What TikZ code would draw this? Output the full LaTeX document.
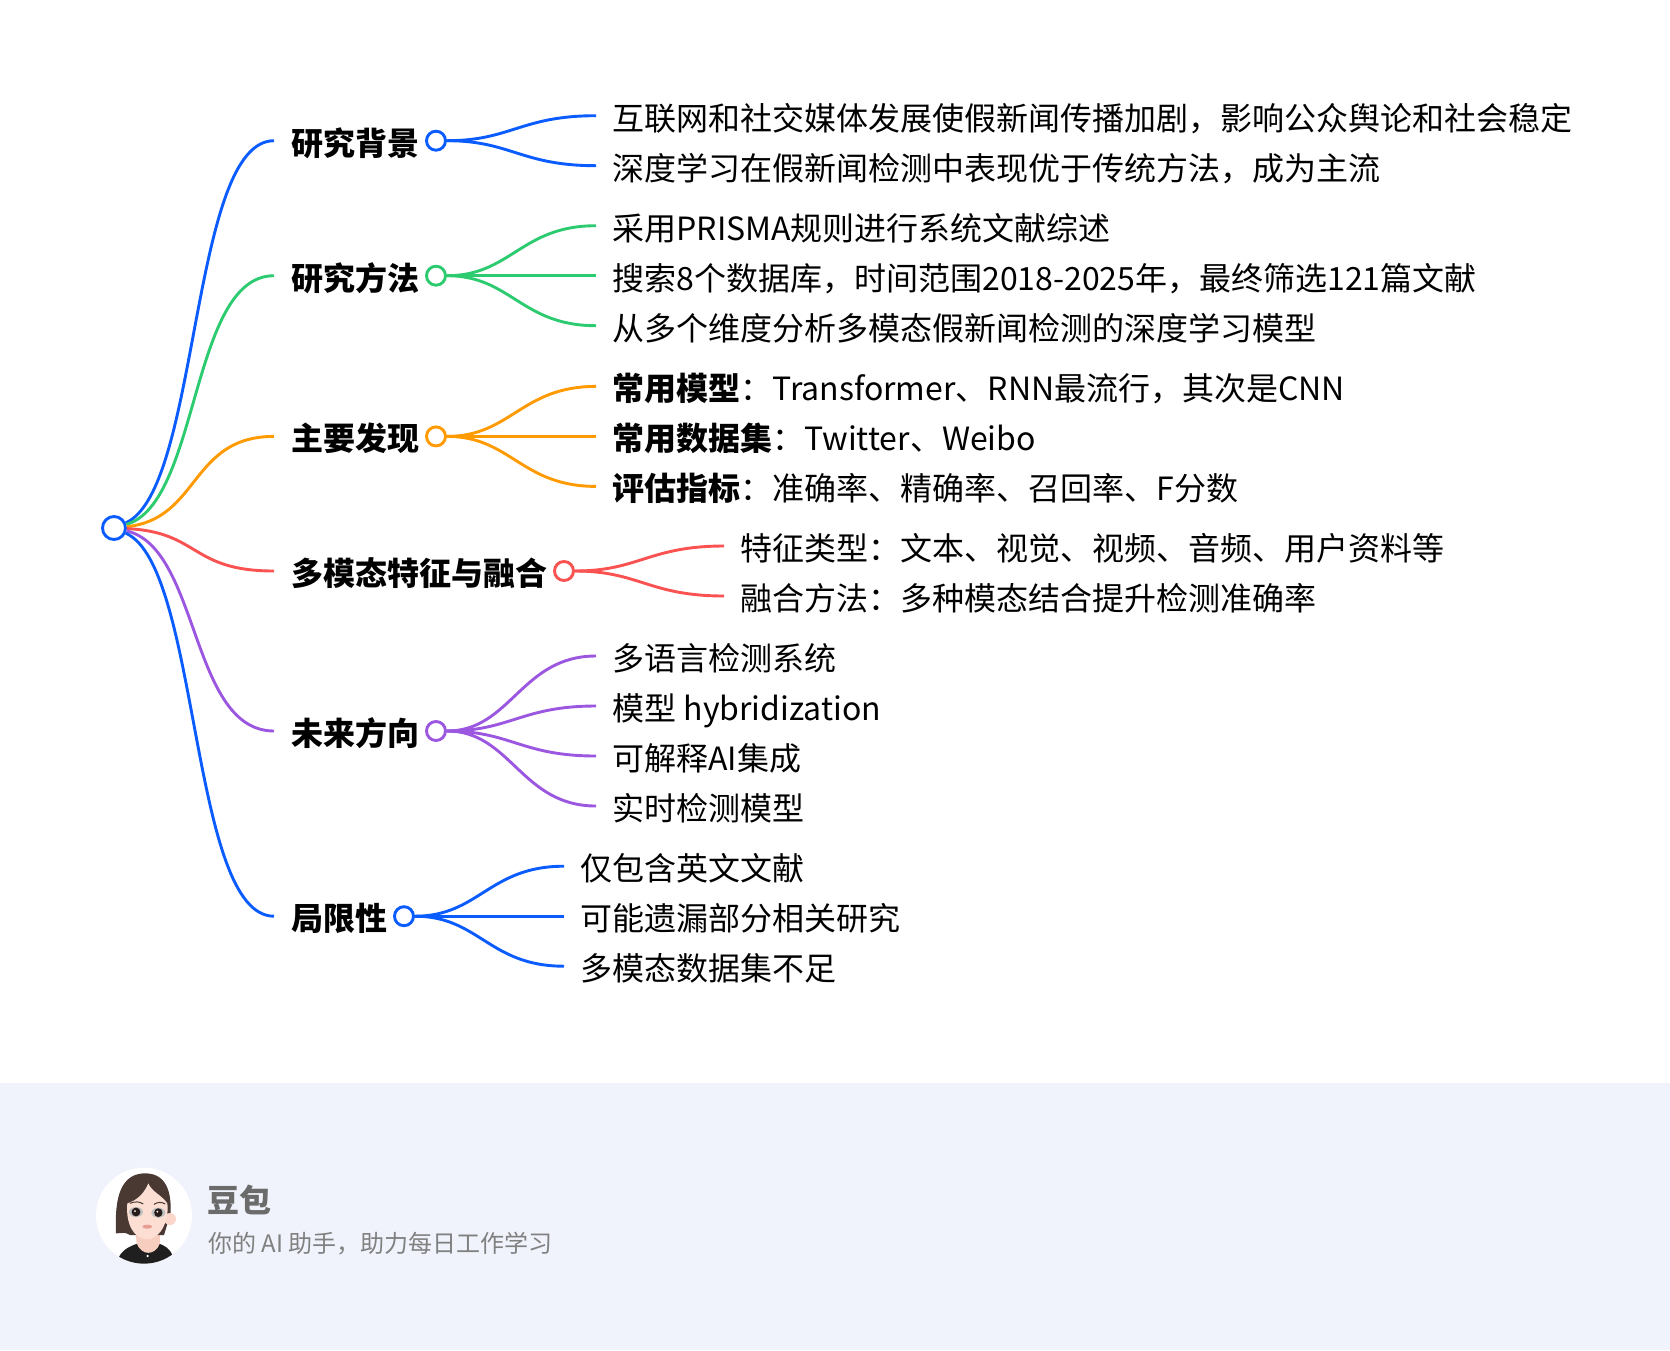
\documentclass[tikz,border=0pt]{standalone}
\usepackage{fontspec}
\setmainfont{Noto Sans CJK SC}
\usetikzlibrary{calc}
\definecolor{cblue}{HTML}{0A5CFF}
\definecolor{cgreen}{HTML}{2DCB70}
\definecolor{corange}{HTML}{FF9A00}
\definecolor{cred}{HTML}{FA5151}
\definecolor{cpurple}{HTML}{9C57E0}
\definecolor{footbg}{HTML}{F0F3FB}
\definecolor{hair}{HTML}{4A3832}
\definecolor{skin}{HTML}{FCDED3}
\definecolor{neck}{HTML}{F6CDBE}
\definecolor{ear}{HTML}{FAD7CA}
\definecolor{eye}{HTML}{281C1A}
\definecolor{lip}{HTML}{E89E92}
\begin{document}
\begin{tikzpicture}[x=1pt,y=-1pt,
    line width=2.9pt,
    label text/.style={inner ysep=0pt,outer sep=0pt,text height=30pt,text depth=1pt,font=\fontsize{32pt}{36pt}\selectfont,anchor=west},
    head/.style={label text,font=\fontsize{32pt}{36pt}\selectfont\bfseries,inner xsep=17pt},
    sub/.style={label text,inner xsep=16.5pt},
    dot/.style={draw,circle,fill=white,inner sep=0pt,minimum size=19pt},
    trunk/.style={to path={(\tikztostart) .. controls +(86,#1) and +(-84,0) .. (\tikztotarget)}},
    branch/.style={to path={(\tikztostart) .. controls +(75,0) and +(-75,0) .. (\tikztotarget)}}]
  \useasboundingbox (0,0) rectangle (1670,1350);
  \fill[footbg] (0,1083) rectangle (1670,1350);

  \node[dot,draw=cblue,minimum size=23pt] (0) at (114,528) {};
  \node[head] (1) at (274,140.7) {研究背景};
  \node[head] (2) at (274,275.7) {研究方法};
  \node[head] (3) at (274,436.4) {主要发现};
  \node[head] (4) at (274,571) {多模态特征与融合};
  \node[head] (5) at (274,731) {未来方向};
  \node[head] (6) at (274,916.2) {局限性};
  \node[dot,draw=cblue] (d1) at (1.east) {};
  \node[dot,draw=cgreen] (d2) at (2.east) {};
  \node[dot,draw=corange] (d3) at (3.east) {};
  \node[dot,draw=cred] (d4) at (4.east) {};
  \node[dot,draw=cpurple] (d5) at (5.east) {};
  \node[dot,draw=cblue] (d6) at (6.east) {};

  \node[sub] (11) at ($(d1)+(160,-25)$) {互联网和社交媒体发展使假新闻传播加剧，影响公众舆论和社会稳定};
  \node[sub] (12) at ($(d1)+(160,25)$) {深度学习在假新闻检测中表现优于传统方法，成为主流};

  \node[sub] (21) at ($(d2)+(160,-50)$) {采用PRISMA规则进行系统文献综述};
  \node[sub] (22) at ($(d2)+(160,0)$) {搜索8个数据库，时间范围2018-2025年，最终筛选121篇文献};
  \node[sub] (23) at ($(d2)+(160,50)$) {从多个维度分析多模态假新闻检测的深度学习模型};

  \node[sub] (31) at ($(d3)+(160,-50)$) {\textbf{常用模型}：Transformer、RNN最流行，其次是CNN};
  \node[sub] (32) at ($(d3)+(160,0)$) {\textbf{常用数据集}：Twitter、Weibo};
  \node[sub] (33) at ($(d3)+(160,50)$) {\textbf{评估指标}：准确率、精确率、召回率、F分数};

  \node[sub] (41) at ($(d4)+(160,-25)$) {特征类型：文本、视觉、视频、音频、用户资料等};
  \node[sub] (42) at ($(d4)+(160,25)$) {融合方法：多种模态结合提升检测准确率};

  \node[sub] (51) at ($(d5)+(160,-75)$) {多语言检测系统};
  \node[sub] (52) at ($(d5)+(160,-25)$) {模型 hybridization};
  \node[sub] (53) at ($(d5)+(160,25)$) {可解释AI集成};
  \node[sub] (54) at ($(d5)+(160,75)$) {实时检测模型};

  \node[sub] (61) at ($(d6)+(160,-50)$) {仅包含英文文献};
  \node[sub] (62) at ($(d6)+(160,0)$) {可能遗漏部分相关研究};
  \node[sub] (63) at ($(d6)+(160,50)$) {多模态数据集不足};

  \path (0) edge[trunk=-38,cblue] (1.west)
            edge[trunk=-25,cgreen] (2.west)
            edge[trunk=-9,corange] (3.west)
            edge[trunk=4,cred] (4.west)
            edge[trunk=20,cpurple] (5.west)
            edge[trunk=38,cblue] (6.west);
  \path[branch] (d1) edge[cblue] (11.west)
                     edge[cblue] (12.west)
                (d2) edge[cgreen] (21.west)
                     edge[cgreen] (22.west)
                     edge[cgreen] (23.west)
                (d3) edge[corange] (31.west)
                     edge[corange] (32.west)
                     edge[corange] (33.west)
                (d4) edge[cred] (41.west)
                     edge[cred] (42.west)
                (d5) edge[cpurple] (51.west)
                     edge[cpurple] (52.west)
                     edge[cpurple] (53.west)
                     edge[cpurple] (54.west)
                (d6) edge[cblue] (61.west)
                     edge[cblue] (62.west)
                     edge[cblue] (63.west);

  \begin{scope}[shift={(80,1150)},x=0.3333pt,y=-0.3333pt]
    \fill[white] (192,197) circle (48pt);
    \begin{scope}
      \clip (192,197) circle (48pt);
      \fill[black!88!white] (115,325) .. controls (125,300) and (150,288) .. (172,281) -- (238,281) .. controls (255,288) and (270,295) .. (278,318) -- (278,345) -- (115,345) -- cycle;
      \fill[neck] (166,235) -- (240,235) -- (240,280) .. controls (225,318) and (185,318) .. (170,280) -- cycle;
      \fill[hair] (108,250) .. controls (105,170) and (110,75) .. (190,70) .. controls (250,68) and (275,110) .. (272,190) -- (252,255) -- (150,255) .. controls (135,245) and (125,250) .. (108,250) -- cycle;
      \fill[ear] (270,207) circle (6pt);
      \fill[skin] (205,100) .. controls (215,125) and (245,135) .. (262,160) .. controls (268,205) and (245,268) .. (200,268) .. controls (165,268) and (136,225) .. (142,160) .. controls (175,150) and (195,125) .. (205,100) -- cycle;
      \fill[black!25] (168,186) ellipse (7pt and 5pt);
      \fill[black!25] (235,188) ellipse (7pt and 5pt);
      \fill[eye] (168,186) ellipse (4.4pt and 4.4pt);
      \fill[eye] (235,188) ellipse (4.2pt and 4.4pt);
      \fill[white] (165,183) circle (1pt);
      \fill[white] (232,185) circle (1pt);
      \draw[hair,line width=1pt] (150,160) .. controls (165,153) and (180,155) .. (190,162);
      \draw[hair,line width=1pt] (222,163) .. controls (232,156) and (245,155) .. (256,162);
      \fill[lip] (202,230) ellipse (5pt and 2pt);
      \fill[white] (203,318) circle (1.3pt);
    \end{scope}
  \end{scope}

  \node[anchor=west,inner sep=0pt,text=black!58,font=\fontsize{32pt}{36pt}\selectfont\bfseries] (7) at (206.5,1200) {豆包};
  \node[anchor=west,inner sep=0pt,text=black!50,font=\fontsize{24pt}{28pt}\selectfont] (8) at (207,1244) {你的 AI 助手，助力每日工作学习};
\end{tikzpicture}
\end{document}
